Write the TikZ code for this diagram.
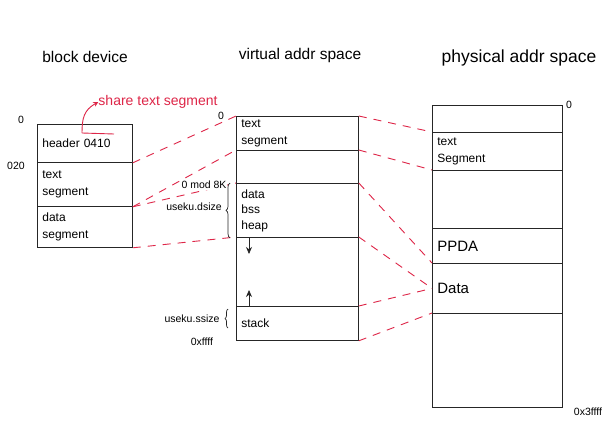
\documentclass[tikz,border=0pt]{standalone}
\usepackage{fontspec}
\setmainfont{Liberation Sans}
\usetikzlibrary{decorations.pathreplacing,arrows.meta,calc}
\definecolor{pen}{RGB}{222,38,72}
\begin{document}
\begin{tikzpicture}[x=1pt,y=-1pt,
  cell/.style={draw=black!85, line width=0.8pt, inner xsep=5pt, inner ysep=0pt,
    align=left, anchor=north west, font=\fontsize{12}{17}\selectfont},
  big/.style={font=\fontsize{15}{18}\selectfont},
  lbl/.style={inner sep=0pt, font=\fontsize{10.5}{12}\selectfont},
  ttl/.style={inner sep=0pt, font=\fontsize{15.5}{18}\selectfont},
  map/.style={draw=pen, line width=0.9pt, dash pattern=on 8pt off 7pt},
  bracebox/.style={draw=black!85, line width=0.7pt, decorate, decoration={brace, amplitude=4pt}},
  growarrow/.style={draw=black!85, line width=0.8pt, -{Stealth[length=7pt,width=6pt]}}]
\fill[white] (0,0) rectangle (613,434);
\useasboundingbox (0,0) rectangle (613,434);

% titles
\node[ttl] (t1) at (85,57) {block device};
\node[ttl] (t2) at (300,55) {virtual addr space};
\node[ttl, font=\fontsize{17.5}{20}\selectfont] (t3) at (519,58) {physical addr space};

% block device
\node[cell, text width=85pt, minimum height=38pt] (bh) at (37,124) {header 0410};
\node[cell, text width=85pt, minimum height=44pt] (bt) at (37,162) {text\\segment};
\node[cell, text width=85pt, minimum height=41pt] (bd) at (37,206) {data\\segment};

% virtual addr space
\node[cell, text width=112pt, minimum height=34pt] (v1) at (236,116) {text\\segment};
\node[cell, text width=112pt, minimum height=33pt] (v2) at (236,150) {};
\node[cell, text width=112pt, minimum height=54pt, font=\fontsize{12}{15.5}\selectfont] (v3) at (236,183) {data\\bss\\heap};
\node[cell, text width=112pt, minimum height=69pt] (v4) at (236,237) {};
\node[cell, text width=112pt, minimum height=34pt] (v5) at (236,306) {stack};

% physical addr space
\node[cell, text width=120pt, minimum height=27pt] (p1) at (432,105) {};
\node[cell, text width=120pt, minimum height=38pt] (p2) at (432,132) {text\\Segment};
\node[cell, text width=120pt, minimum height=58pt] (p3) at (432,170) {};
\node[cell, big, text width=120pt, minimum height=35pt] (p4) at (432,228) {\raisebox{-5pt}{PPDA}};
\node[cell, big, text width=120pt, minimum height=50pt] (p5) at (432,263) {\raisebox{-4pt}{Data}};
\node[cell, text width=120pt, minimum height=94pt] (p6) at (432,313) {};

% mappings
\draw[map] (bh.south east) -- (v1.north west);
\draw[map] (bt.south east) -- (v2.north west);
\draw[map] (bt.south east) -- (v3.north west);
\draw[map] (bd.south east) -- (v4.north west);
\draw[map] (v1.north east) -- (p2.north west);
\draw[map] (v2.north east) -- (p3.north west);
\draw[map] (v3.north east) -- (p5.north west);
\draw[map] (v4.north east) -- (p5.west);
\draw[map] (v5.north east) -- (p5.west);
\draw[map] (v5.south east) -- (p6.north west);

% address labels
\node[lbl] (z1) at (21,120) {0};
\node[lbl] (z2) at (16,166) {020};
\node[lbl] (z3) at (221,116) {0};
\node[lbl, fill=white, inner sep=1pt] (mod) at (204,185) {0 mod 8K};
\node[lbl, fill=white, inner sep=1pt] (ds) at (194,207) {useku.dsize};
\node[lbl] (ss) at (192,319) {useku.ssize};
\node[lbl] (ff) at (202,342) {0xffff};
\node[lbl] (z4) at (569,105) {0};
\node[lbl] (top) at (588,412) {0x3ffff};

% braces
\draw[bracebox] ($(v3.south west)+(-6,0)$) -- ($(v3.north west)+(-6,0)$);
\draw[bracebox, decoration={brace, amplitude=3pt}] ($(v5.north west)+(-8,22)$) -- ($(v5.north west)+(-8,3)$);

% growth arrows
\draw[growarrow] ($(v4.north west)+(13,0)$) -- ++(0,17);
\draw[growarrow] ($(v5.north west)+(13,0)$) -- ++(0,-16);

% share annotation
\node[inner sep=0pt, text=pen, font=\fontsize{14}{16}\selectfont] (share) at (158,102) {share text segment};
\coordinate (ul1) at (82,133);
\coordinate (ul2) at (114,134);
\draw[pen, line width=0.9pt] (ul1) -- (ul2);
\draw[pen, line width=0.9pt, -{Stealth[length=5pt,width=5pt]}] (ul1) .. controls (82,118) and (84,110) .. (share.west);
\end{tikzpicture}
\end{document}
